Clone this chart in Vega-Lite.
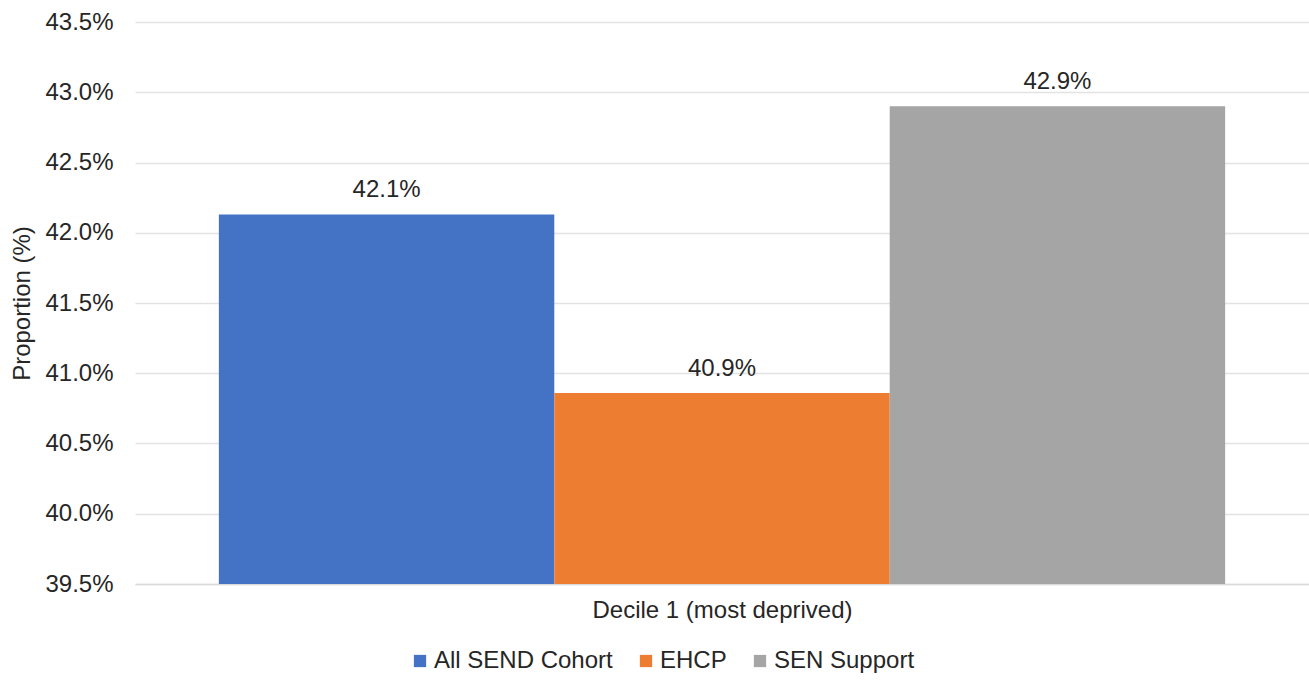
{
  "$schema": "https://vega.github.io/schema/vega-lite/v6.json",
  "autosize": "none",
  "width": 1174,
  "height": 562,
  "padding": {"left": 135, "top": 22, "right": 0, "bottom": 96},
  "background": "white",
  "config": {
    "view": {"stroke": null},
    "font": "Liberation Sans",
    "axis": {"labelFont": "Liberation Sans", "titleFont": "Liberation Sans"}
  },
  "data": {
    "values": [
      {"decile": "Decile 1 (most deprived)", "group": "All SEND Cohort", "value": 0.4213},
      {"decile": "Decile 1 (most deprived)", "group": "EHCP", "value": 0.4086},
      {"decile": "Decile 1 (most deprived)", "group": "SEN Support", "value": 0.4290}
    ]
  },
  "encoding": {
    "x": {
      "field": "group",
      "type": "nominal",
      "sort": ["All SEND Cohort", "EHCP", "SEN Support"],
      "scale": {"paddingInner": 0, "paddingOuter": 0.25},
      "axis": {
        "title": "Decile 1 (most deprived)",
        "labels": false,
        "ticks": false,
        "domainColor": "#d9d9d9",
        "domainWidth": 1.5,
        "titleFontSize": 24,
        "titleFontWeight": "normal",
        "titleColor": "#262626",
        "titlePadding": 14
      }
    },
    "y": {
      "field": "value",
      "type": "quantitative",
      "scale": {"domain": [0.395, 0.435], "zero": false, "nice": false},
      "axis": {
        "title": "Proportion (%)",
        "format": ".1%",
        "values": [0.395, 0.40, 0.405, 0.41, 0.415, 0.42, 0.425, 0.43, 0.435],
        "domain": false,
        "ticks": false,
        "gridColor": "#e3e3e3",
        "gridWidth": 1.5,
        "labelFontSize": 24,
        "labelColor": "#262626",
        "labelPadding": 22,
        "titleFontSize": 24,
        "titleFontWeight": "normal",
        "titleColor": "#262626",
        "titlePadding": 10
      }
    }
  },
  "layer": [
    {
      "mark": {"type": "bar"},
      "encoding": {
        "y2": {"datum": 0.395},
        "color": {
          "field": "group",
          "type": "nominal",
          "scale": {
            "domain": ["All SEND Cohort", "EHCP", "SEN Support"],
            "range": ["#4472C4", "#ED7D31", "#A5A5A5"]
          },
          "legend": {
            "title": null,
            "orient": "none",
            "direction": "horizontal",
            "legendX": 273,
            "legendY": 627,
            "symbolType": "square",
            "symbolSize": 150,
            "symbolStrokeWidth": 0,
            "labelFontSize": 24,
            "labelLimit": 500,
            "labelColor": "#262626",
            "labelOffset": 2,
            "columnPadding": 21
          }
        }
      }
    },
    {
      "mark": {"type": "text", "baseline": "middle", "dy": -24, "fontSize": 24, "color": "#262626"},
      "encoding": {
        "text": {"field": "value", "type": "quantitative", "format": ".1%"}
      }
    }
  ]
}
